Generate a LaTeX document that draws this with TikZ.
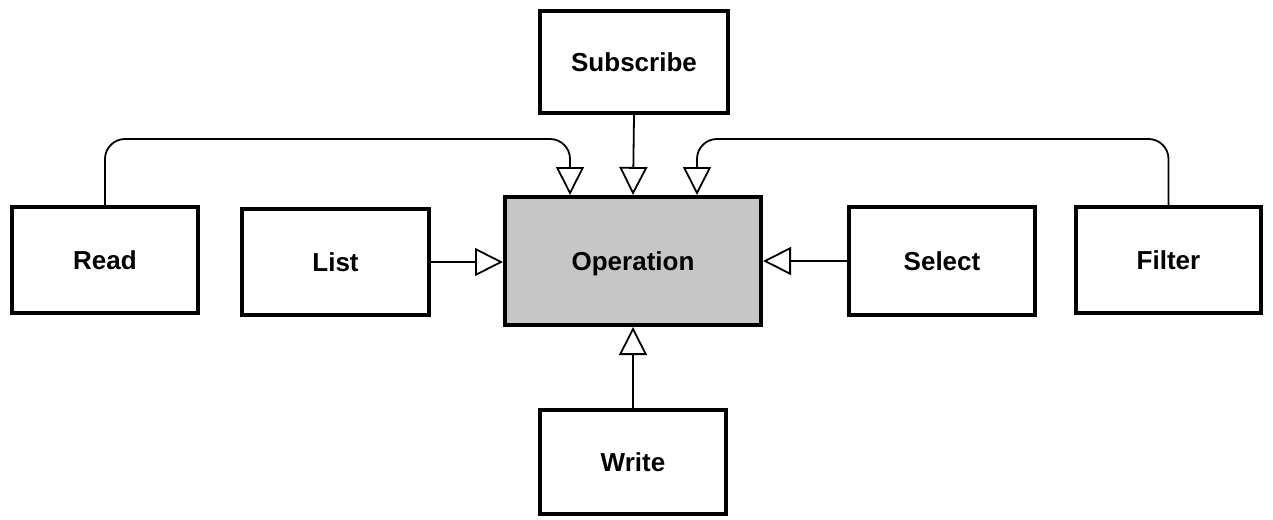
\documentclass[tikz,border=0pt]{standalone}
\usepackage{fontspec}
\setmainfont{Liberation Sans}
\usetikzlibrary{arrows.meta,calc}
\definecolor{opgray}{RGB}{198,198,198}
\tikzset{
  box/.style={draw,line width=4pt,rectangle,text depth=0pt,font=\fontsize{26}{30}\selectfont\bfseries},
  flow/.style={line width=1.8pt,-{Triangle[length=28pt,width=28pt,fill=white]}}
}

\begin{document}
\begin{tikzpicture}[x=1pt,y=-1pt]
    \useasboundingbox (0,0) rectangle (1273,519);
    \begin{scope}[shift={(0,0)}]
      \node[box,fill=opgray,minimum width=256pt,minimum height=128pt] (op) at (633,261) {Operation};
      \node[box,minimum width=188pt,minimum height=102pt] (sub) at (634,62) {Subscribe};
      \node[box,minimum width=186pt,minimum height=106pt] (read) at (105,260) {Read};
      \node[box,minimum width=187pt,minimum height=106pt] (list) at (335.5,262) {List};
      \node[box,minimum width=186pt,minimum height=108pt] (select) at (942,261) {Select};
      \node[box,minimum width=185pt,minimum height=106pt] (filter) at (1168.5,260) {Filter};
      \node[box,minimum width=186pt,minimum height=104pt] (write) at (633,462) {Write};

      \draw[flow,rounded corners=20pt](read.north)--++(0,-66)-|([xshift=-63pt]op.north);
      \draw[flow,rounded corners=20pt](filter.north)--++(0,-66)-|([xshift=64pt]op.north);
      \draw[flow](sub.south)--(op.north);
      \draw[flow](list.east)--(list.east -| op.west);
      \draw[flow](select.west)--(select.west -| op.east);
      \draw[flow](write.north)--(op.south);
    \end{scope}
  \end{tikzpicture}
\end{document}
